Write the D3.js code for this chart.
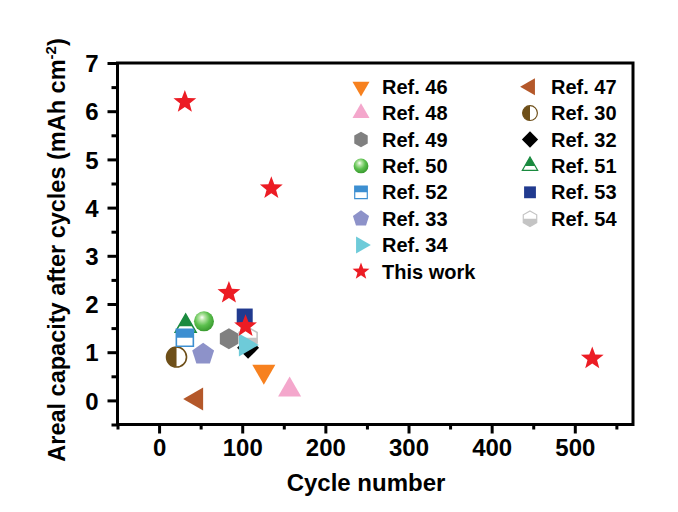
<!DOCTYPE html>
<html><head><meta charset="utf-8">
<script src="https://cdn.jsdelivr.net/npm/d3@7"></script>
<style>body{margin:0;background:#fff;} svg{display:block;}</style>
</head><body><svg id="chart" width="678" height="512"></svg>
<script>
// ---- data ----
const refNames    = ["Ref. 46","Ref. 47","Ref. 48","Ref. 30","Ref. 49","Ref. 32","Ref. 50","Ref. 51","Ref. 52","Ref. 53","Ref. 33","Ref. 54","Ref. 34"];
const refCycles   = [126, 45, 157, 21, 84, 107, 54, 32, 31, 103, 53, 107, 104];
const refCapacity = [0.60, 0.03, 0.22, 0.90, 1.28, 1.09, 1.64, 1.54, 1.30, 1.74, 0.96, 1.30, 1.15];
const workName     = "This work";
const workCycles   = [31, 135, 84, 104, 521];
const workCapacity = [6.19, 4.40, 2.23, 1.54, 0.87];
const legendCol1 = ["Ref. 46","Ref. 48","Ref. 49","Ref. 50","Ref. 52","Ref. 33","Ref. 34","This work"];
const legendCol2 = ["Ref. 47","Ref. 30","Ref. 32","Ref. 51","Ref. 53","Ref. 54"];
const xTicks = [0,100,200,300,400,500];
const yTicks = [0,1,2,3,4,5,6,7];

// ---- styles ----
const style = {
  "Ref. 46": {shape:"triDown", color:"#F7811F", r:13.3},
  "Ref. 47": {shape:"triLeft", color:"#B4582A", r:13.3},
  "Ref. 48": {shape:"triUp", color:"#F4A7CC", r:13.3},
  "Ref. 30": {shape:"circle", color:"#6E4F19", r:10, half:"left"},
  "Ref. 49": {shape:"hex", color:"#808080", r:10.5},
  "Ref. 32": {shape:"diamond", color:"#000000", r:11},
  "Ref. 50": {shape:"sphere", color:"#4FB544", r:10},
  "Ref. 51": {shape:"triUp", color:"#1A8A3F", r:12, half:"top"},
  "Ref. 52": {shape:"square", color:"#3D8FD1", r:8.5, half:"top"},
  "Ref. 53": {shape:"square", color:"#213A8F", r:8},
  "Ref. 33": {shape:"pent", color:"#8D92C9", r:11.5},
  "Ref. 54": {shape:"hex", color:"#C4C4C4", r:10.5, half:"bottom"},
  "Ref. 34": {shape:"triRight", color:"#6ECBD9", r:13.3},
  "This work": {shape:"star", color:"#EC1C24", r:12}
};
const legendScale = 0.74;

function poly(pts){ return "M" + pts.map(p => p[0].toFixed(2)+","+p[1].toFixed(2)).join("L") + "Z"; }
function regular(n, r, start){ const a=[]; for(let k=0;k<n;k++){const t=(start+360*k/n)*Math.PI/180; a.push([r*Math.cos(t), r*Math.sin(t)]);} return a; }
function shapePath(shape, r){
  const s = Math.sqrt(3)/2;
  switch(shape){
    case "triDown": return poly([[0,r],[s*r,-r/2],[-s*r,-r/2]]);
    case "triUp": return poly([[0,-r],[s*r,r/2],[-s*r,r/2]]);
    case "triLeft": return poly([[-r,0],[r/2,-s*r],[r/2,s*r]]);
    case "triRight": return poly([[r,0],[-r/2,-s*r],[-r/2,s*r]]);
    case "hex": return poly(regular(6, r, -90));
    case "pent": return poly(regular(5, r, -90));
    case "diamond": return poly([[0,-r],[r,0],[0,r],[-r,0]]);
    case "square": return poly([[-r,-r],[r,-r],[r,r],[-r,r]]);
    case "star": { const pts=[]; for(let k=0;k<10;k++){const rr = k%2===0 ? r : r*0.42; const t=(-90+36*k)*Math.PI/180; pts.push([rr*Math.cos(t), rr*Math.sin(t)]);} return poly(pts); }
    default: return `M${-r},0A${r},${r} 0 1,1 ${r},0A${r},${r} 0 1,1 ${-r},0Z`;
  }
}

const svg = d3.select("#chart");
const defs = svg.append("defs");
const grad = defs.append("radialGradient").attr("id","sphereGrad").attr("cx","42%").attr("cy","38%").attr("r","62%").attr("fx","40%").attr("fy","30%");
grad.append("stop").attr("offset","0%").attr("stop-color","#ffffff");
grad.append("stop").attr("offset","22%").attr("stop-color","#b8e6a8");
grad.append("stop").attr("offset","60%").attr("stop-color","#5cc04e");
grad.append("stop").attr("offset","100%").attr("stop-color","#3a9b30");
const clips = {top:[-50,-50,100,50], bottom:[-50,0,100,50], left:[-50,-50,50,100]};
Object.entries(clips).forEach(([k,v]) => defs.append("clipPath").attr("id","clip-"+k).append("rect").attr("x",v[0]).attr("y",v[1]).attr("width",v[2]).attr("height",v[3]));

function drawMarker(g, name, scale){
  const st = style[name]; const r = st.r*scale;
  const d = shapePath(st.shape === "sphere" ? "circle" : st.shape, r);
  if(st.shape === "sphere"){
    g.append("path").attr("d", d).attr("fill","url(#sphereGrad)");
  } else if(st.half){
    g.append("path").attr("d", d).attr("fill","#ffffff");
    g.append("path").attr("d", d).attr("fill", st.color).attr("clip-path","url(#clip-"+st.half+")");
    g.append("path").attr("d", d).attr("fill","none").attr("stroke", st.color).attr("stroke-width", 1.6*scale);
  } else {
    g.append("path").attr("d", d).attr("fill", st.color);
  }
}

// ---- scales ----
const x = d3.scaleLinear().domain([-50, 570]).range([117.5, 633]);
const y = d3.scaleLinear().domain([-0.5, 7]).range([424.5, 63]);
const font = "'Liberation Sans', Arial, sans-serif";

// axes
const xAxis = svg.append("g").attr("transform","translate(0,424.5)")
  .call(d3.axisBottom(x).tickValues(xTicks).tickSize(9).tickSizeOuter(0).tickPadding(5).tickFormat(d3.format("d")));
const xMinor = svg.append("g").attr("transform","translate(0,424.5)")
  .call(d3.axisBottom(x).tickValues(d3.range(-50, 571, 50).filter(v => v%100 !== 0)).tickSize(5).tickSizeOuter(0).tickFormat(""));
const yAxis = svg.append("g").attr("transform","translate(117.5,0)")
  .call(d3.axisLeft(y).tickValues(yTicks).tickSize(10).tickSizeOuter(0).tickPadding(9).tickFormat(d3.format("d")));
const yMinor = svg.append("g").attr("transform","translate(117.5,0)")
  .call(d3.axisLeft(y).tickValues(d3.range(-0.5, 7, 1)).tickSize(6).tickSizeOuter(0).tickFormat(""));
[xAxis, xMinor, yAxis, yMinor].forEach(a => {
  a.select(".domain").remove();
  a.selectAll(".tick line").attr("stroke","#000").attr("stroke-width",3);
  a.selectAll("text").attr("font-family",font).attr("font-weight","bold").attr("font-size",24).attr("fill","#000");
});
yAxis.selectAll("text").attr("dy","0.36em");

// frame
svg.append("rect").attr("x",x(-50)).attr("y",y(7)).attr("width",x(570)-x(-50)).attr("height",y(-0.5)-y(7))
  .attr("fill","none").attr("stroke","#000").attr("stroke-width",3);

// titles
svg.append("text").attr("x",366).attr("y",491).attr("text-anchor","middle")
  .attr("font-family",font).attr("font-weight","bold").attr("font-size",24).text("Cycle number");
const yt = svg.append("text").attr("transform","translate(65,250) rotate(-90)").attr("text-anchor","middle")
  .attr("font-family",font).attr("font-weight","bold").attr("font-size",23.5);
yt.append("tspan").text("Areal capacity after cycles (mAh cm");
yt.append("tspan").attr("font-size",15).attr("dy",-9).text("-2");
yt.append("tspan").attr("dy",9).text(")");

// points
const plot = svg.append("g");
refNames.forEach((n,i) => {
  drawMarker(plot.append("g").attr("transform",`translate(${x(refCycles[i])},${y(refCapacity[i])})`), n, 1);
});
workCycles.forEach((c,i) => {
  drawMarker(plot.append("g").attr("transform",`translate(${x(c)},${y(workCapacity[i])})`), workName, 1);
});

// legend
const rowY = i => 86.7 + i*26.4;
[[legendCol1, 361, 382], [legendCol2, 530, 551]].forEach(([col, mx, tx]) => {
  col.forEach((n,i) => {
    drawMarker(svg.append("g").attr("transform",`translate(${mx},${rowY(i)})`), n, legendScale);
    svg.append("text").attr("x",tx).attr("y",rowY(i)+7).attr("font-family",font).attr("font-weight","bold")
      .attr("font-size",20).text(n);
  });
});
</script></body></html>
